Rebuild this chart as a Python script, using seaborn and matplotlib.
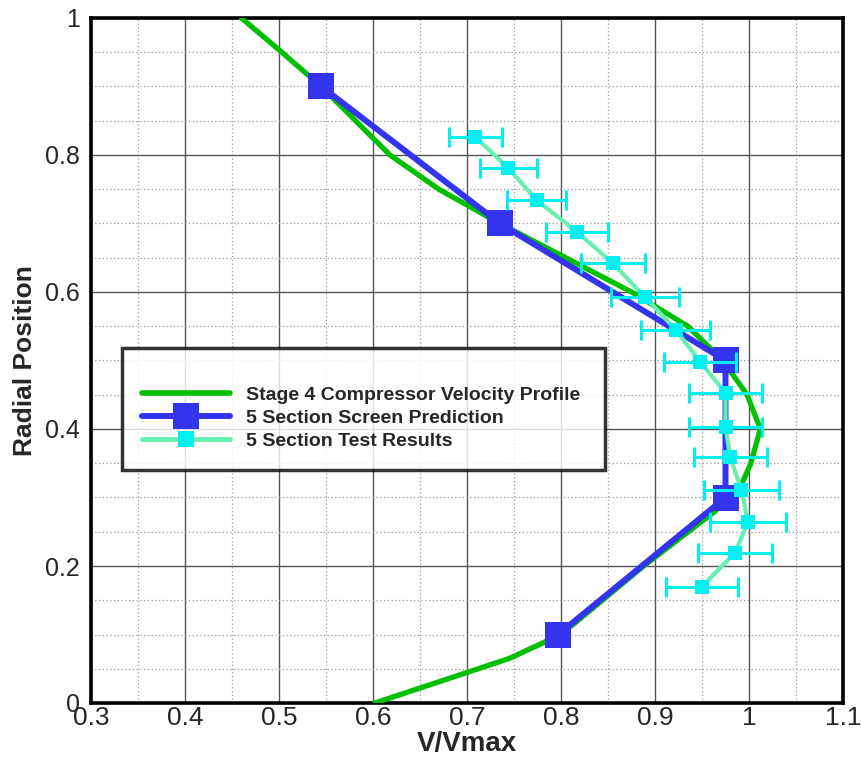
import matplotlib
matplotlib.use("Agg")
import matplotlib.pyplot as plt
import seaborn as sns
import pandas as pd
from matplotlib.lines import Line2D
from matplotlib.ticker import MultipleLocator

# ---- data ----
profile_v = [0.46, 0.503, 0.545, 0.618, 0.67, 0.735, 0.875, 0.935, 0.972, 0.985,
             0.998, 1.012, 1.002, 0.994, 0.978, 0.964, 0.888, 0.80, 0.745, 0.602]
profile_r = [1.0, 0.95, 0.9, 0.8, 0.75, 0.7, 0.6, 0.55, 0.5, 0.475,
             0.45, 0.4, 0.35, 0.325, 0.3, 0.28, 0.2, 0.1, 0.065, 0.0]

pred_v = [0.545, 0.735, 0.975, 0.975, 0.797]
pred_r = [0.9, 0.7, 0.5, 0.3, 0.1]

test_v = [0.709, 0.744, 0.774, 0.817, 0.855, 0.889, 0.922, 0.948,
          0.975, 0.975, 0.980, 0.992, 0.999, 0.985, 0.950]
test_r = [0.826, 0.781, 0.734, 0.688, 0.642, 0.593, 0.545, 0.498,
          0.453, 0.403, 0.359, 0.311, 0.264, 0.219, 0.170]
test_err = [0.028, 0.030, 0.031, 0.033, 0.034, 0.036, 0.037, 0.038,
            0.039, 0.039, 0.039, 0.040, 0.040, 0.039, 0.038]

labels = ["Stage 4 Compressor Velocity Profile",
          "5 Section Screen Prediction",
          "5 Section Test Results"]

GREEN = "#00C000"
BLUE = "#3434EE"
TESTLINE = "#66F0B0"
CYAN = "#00F0F0"

sns.set_style("white")
plt.rcParams["font.family"] = ["Liberation Sans", "DejaVu Sans"]
NARROW = ["Liberation Sans Narrow", "Liberation Sans", "DejaVu Sans"]

fig = plt.figure(figsize=(8.61, 7.65), dpi=100)
ax = fig.add_axes([91/861, 62/765, 752/861, 685/765])

df_prof = pd.DataFrame({"v": profile_v, "r": profile_r})
df_pred = pd.DataFrame({"v": pred_v, "r": pred_r})
df_test = pd.DataFrame({"v": test_v, "r": test_r})

sns.lineplot(data=df_prof, x="v", y="r", sort=False, estimator=None,
             color=GREEN, lw=3.8, ax=ax, zorder=3)
sns.lineplot(data=df_pred, x="v", y="r", sort=False, estimator=None,
             color=BLUE, lw=4.3, marker="s", markersize=19,
             markeredgewidth=0, ax=ax, zorder=4)
ax.errorbar(test_v, test_r, xerr=test_err, fmt="none", ecolor=CYAN,
            elinewidth=2.2, capsize=7, capthick=2.2, zorder=5)
sns.lineplot(data=df_test, x="v", y="r", sort=False, estimator=None,
             color=TESTLINE, lw=3, ax=ax, zorder=5)
ax.plot(test_v, test_r, ls="none", marker="s", markersize=10,
        color=CYAN, markeredgewidth=0, zorder=6)

ax.set_xlim(0.3, 1.1)
ax.set_ylim(0, 1)
ax.xaxis.set_minor_locator(MultipleLocator(0.05))
ax.yaxis.set_minor_locator(MultipleLocator(0.05))
ax.set_xticks([0.3, 0.4, 0.5, 0.6, 0.7, 0.8, 0.9, 1.0, 1.1])
ax.set_xticklabels(["0.3", "0.4", "0.5", "0.6", "0.7", "0.8", "0.9", "1", "1.1"],
                   family=NARROW)
ax.set_yticks([0, 0.2, 0.4, 0.6, 0.8, 1.0])
ax.set_yticklabels(["0", "0.2", "0.4", "0.6", "0.8", "1"])

ax.grid(which="major", color="#555555", lw=1.0, ls="-")
ax.grid(which="minor", color="#999999", lw=0.9, ls=(0, (1, 2)))
ax.set_axisbelow(True)

for s in ax.spines.values():
    s.set_linewidth(2.6)
    s.set_color("black")

ax.tick_params(axis="x", which="major", direction="in", length=7, width=2,
               labelsize=19, pad=2)
ax.tick_params(axis="x", which="minor", direction="in", length=3, width=1)
ax.tick_params(axis="y", which="major", direction="out", length=6, width=2,
               labelsize=18, pad=2)
ax.tick_params(axis="y", which="minor", direction="in", length=3, width=1)

ax.set_xlabel("V/Vmax", fontsize=20, fontweight="bold", labelpad=1, family=NARROW)
ax.set_ylabel("Radial Position", fontsize=19, fontweight="bold", labelpad=6)

handles = [
    Line2D([], [], color=GREEN, lw=4),
    Line2D([], [], color=BLUE, lw=4.3, marker="s", markersize=19, markeredgewidth=0),
    Line2D([], [], color=TESTLINE, lw=3.5, marker="s", markersize=11,
           markerfacecolor=CYAN, markeredgewidth=0),
]
leg = ax.legend(handles, labels, loc="upper left",
                bbox_to_anchor=(0.041, 0.350, 0.643, 0.168), mode="expand",
                frameon=True, fancybox=False, edgecolor="black",
                prop={"weight": "bold", "size": 14}, handlelength=4.5,
                handletextpad=0.82, labelspacing=0.28, borderpad=1.05,
                title=" ", title_fontsize=9, borderaxespad=0)
leg.get_frame().set_linewidth(2.5)
leg.set_zorder(10)

fig.savefig("out.png", dpi=100)
